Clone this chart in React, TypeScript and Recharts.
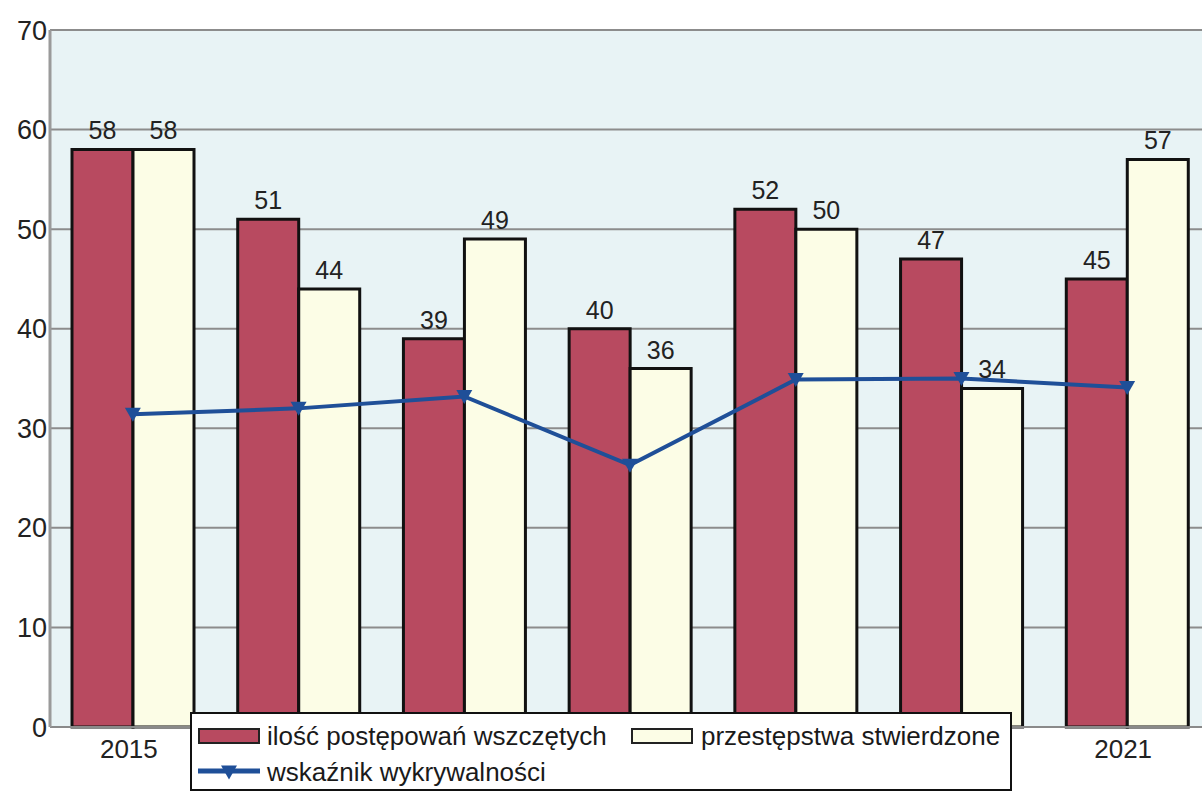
import { ComposedChart, Bar, Line, XAxis, YAxis, CartesianGrid, LabelList } from 'recharts';

const years = ['2015', '2016', '2017', '2018', '2019', '2020', '2021'];
const wszczete = [58, 51, 39, 40, 52, 47, 45];
const stwierdzone = [58, 44, 49, 36, 50, 34, 57];
const wykrywalnosc = [31.4, 32, 33.2, 26.3, 34.9, 35, 34.1];
const yTicks = [0, 10, 20, 30, 40, 50, 60, 70];

const RED = '#b84a60';
const CREAM = '#fcfde6';
const BLUE = '#1f4f98';
const FONT = '"Liberation Sans", Arial, sans-serif';

// legend box, the x labels under it are covered in the original
const LEGEND_LEFT = 190;
const LEGEND_RIGHT = 1012;

const data = years.map((year, i) => ({
  year,
  wszczete: wszczete[i],
  stwierdzone: stwierdzone[i],
  wykrywalnosc: wykrywalnosc[i],
}));

function Triangle({ cx, cy }: { cx: number; cy: number }) {
  return <path d={`M${cx - 8},${cy - 6.5} L${cx + 8},${cy - 6.5} L${cx},${cy + 7.5} Z`} fill={BLUE} />;
}

function YearTick({ x, y, payload }: any) {
  if (x > LEGEND_LEFT && x < LEGEND_RIGHT) return null;
  return (
    <text x={x - 4} y={y} dy={18} textAnchor="middle" fontSize={26} fill="#222">
      {payload.value}
    </text>
  );
}

function ChartLegend() {
  return (
    <div
      style={{
        position: 'absolute',
        left: LEGEND_LEFT,
        top: 712,
        width: LEGEND_RIGHT - LEGEND_LEFT,
        height: 79,
        background: '#fff',
        border: '2px solid #111',
        boxSizing: 'border-box',
        fontSize: 26,
        color: '#1a1a1a',
        lineHeight: '28px',
      }}
    >
      <div style={{ position: 'absolute', left: 6, top: 8, display: 'flex', alignItems: 'center' }}>
        <svg width={62} height={16}>
          <rect x={1} y={1} width={60} height={14} fill={RED} stroke="#222" strokeWidth={2} />
        </svg>
        <span style={{ marginLeft: 7 }}>ilość postępowań wszczętych</span>
      </div>
      <div style={{ position: 'absolute', left: 439, top: 8, display: 'flex', alignItems: 'center' }}>
        <svg width={62} height={16}>
          <rect x={1} y={1} width={60} height={14} fill={CREAM} stroke="#222" strokeWidth={2} />
        </svg>
        <span style={{ marginLeft: 8 }}>przestępstwa stwierdzone</span>
      </div>
      <div style={{ position: 'absolute', left: 5, top: 44, display: 'flex', alignItems: 'center' }}>
        <svg width={64} height={18}>
          <line x1={1} y1={8} x2={63} y2={8} stroke={BLUE} strokeWidth={5} />
          <Triangle cx={32} cy={9} />
        </svg>
        <span style={{ marginLeft: 6 }}>wskaźnik wykrywalności</span>
      </div>
    </div>
  );
}

export default function App() {
  return (
    <div
      style={{
        position: 'absolute',
        left: 0,
        top: 0,
        width: 1202,
        height: 796,
        overflow: 'hidden',
        background: '#fff',
        fontFamily: FONT,
      }}
    >
      <ComposedChart
        width={1230}
        height={796}
        data={data}
        margin={{ top: 30, right: 20, left: 0, bottom: 9 }}
        barCategoryGap={22}
        barGap={0}
      >
        <CartesianGrid vertical={false} fill="#e8f3f5" stroke="#8c8c8c" strokeWidth={2} />
        <XAxis
          dataKey="year"
          height={60}
          tickSize={0}
          tickMargin={13}
          axisLine={{ stroke: '#8a8a8a', strokeWidth: 2 }}
          tick={<YearTick />}
        />
        <YAxis
          width={50}
          domain={[0, 70]}
          ticks={yTicks}
          tickSize={0}
          tickMargin={3}
          axisLine={{ stroke: '#9a9a9a', strokeWidth: 3 }}
          tick={{ fontSize: 27, fill: '#222' }}
        />
        <Bar dataKey="wszczete" fill={RED} stroke="#111" strokeWidth={3} isAnimationActive={false}>
          <LabelList dataKey="wszczete" position="top" offset={10} fontSize={25} fill="#222" />
        </Bar>
        <Bar dataKey="stwierdzone" fill={CREAM} stroke="#111" strokeWidth={3} isAnimationActive={false}>
          <LabelList dataKey="stwierdzone" position="top" offset={10} fontSize={25} fill="#222" />
        </Bar>
        <Line
          dataKey="wykrywalnosc"
          stroke={BLUE}
          strokeWidth={4}
          dot={(p: any) => <Triangle key={`d-${p.index}`} cx={p.cx} cy={p.cy} />}
          activeDot={false}
          isAnimationActive={false}
        />
      </ComposedChart>
      <ChartLegend />
    </div>
  );
}
